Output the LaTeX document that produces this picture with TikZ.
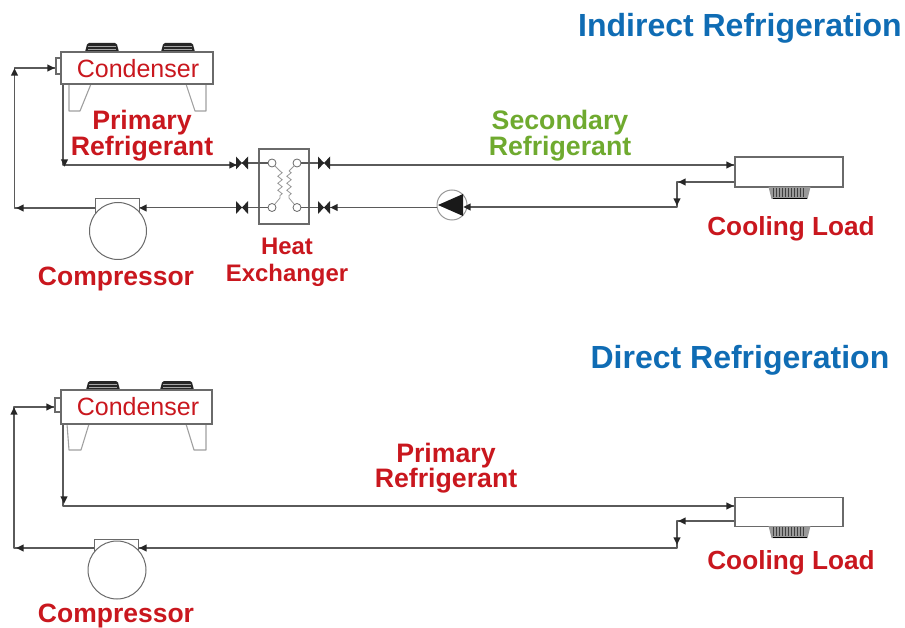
\documentclass[tikz,border=0pt]{standalone}
\usepackage{fontspec}
\setmainfont{Liberation Sans}
\usetikzlibrary{decorations.pathmorphing}
\definecolor{lblred}{HTML}{C9171E}
\definecolor{lblblue}{HTML}{0F6CB4}
\definecolor{lblgreen}{HTML}{6FAA2F}
\definecolor{pipe}{HTML}{5A5A5A}
\definecolor{unit}{HTML}{6A6A6A}
\newcommand{\lbl}[1]{\fontsize{#1}{#1}\selectfont}
\tikzset{
  x=1pt,y=-1pt,
  pipeline/.style={draw=pipe,line width=1.1pt,line join=round},
  unitbox/.style={draw=unit,line width=1.2pt,fill=white},
  unitline/.style={draw=gray!75,line width=1.1pt,line join=round},
  redlabel/.style={text=lblred,font=\bfseries\lbl{26.7},inner sep=0pt,anchor=base},
  smallred/.style={text=lblred,font=\bfseries\lbl{23.9},inner sep=0pt,anchor=base},
  loadlabel/.style={text=lblred,font=\bfseries\lbl{26.2},inner sep=0pt,anchor=base},
  condlabel/.style={text=lblred,font=\lbl{25},inner sep=0pt,anchor=base},
  title/.style={text=lblblue,font=\bfseries\lbl{32},inner sep=0pt,anchor=base},
  port/.style={circle,draw=gray!80!black,line width=0.8pt,fill=white,minimum size=8pt,inner sep=0pt},
  coilpath/.style={draw=gray!80,line width=0.8pt,decorate,decoration={zigzag,amplitude=2.2pt,segment length=7pt}},
  pics/flowtip/.style={code={\fill[black!85] (3.6,0)--(-3.6,3.6)--(-3.6,-3.6)--cycle;}},
  pics/valve/.style={code={\fill[black!85] (-6,-6.5)--(6,6.5)--(6,-6.5)--(-6,6.5)--cycle;}},
  pics/fanblock/.style={code={
    \fill[black!85] (-17,0)--(-15,-7.5)--(-13,-9)--(13,-9)--(15,-7.5)--(17,0)--cycle;
    \foreach \yy in {-3,-6}{\draw[gray!70,line width=0.4pt] (-14,\yy)--(14,\yy);}
  }},
  pics/coolfan/.style={code={
    \fill[gray!80] (-21,0)--(21,0)--(18,12)--(-18,12)--cycle;
    \foreach \xx in {-16,-13,...,16}{\draw[black!75,line width=1.2pt] (\xx,1)--(\xx,10);}
    \draw[black,line width=1.2pt] (-17,11.5)--(17,11.5);
  }},
}
\begin{document}
\begin{tikzpicture}
\useasboundingbox (0,0) rectangle (905,628);

% ---------- Indirect ----------
\node[title,anchor=base east] (t1) at (902,37) {Indirect Refrigeration};

% condenser
\pic at (102,52) {fanblock};
\pic at (178,52) {fanblock};
\draw[unitline] (69,84)--(69,111)--(80,111)--(91,84);
\draw[unitline] (186,84)--(195,111)--(206,111)--(206,84);
\node[unitbox,minimum width=152pt,minimum height=32pt,inner sep=0pt] (cond1) at (137,68) {};
\node[unitbox,minimum width=5pt,minimum height=16pt,inner sep=0pt] (cport1) at (58.5,66) {};
\node[condlabel] (cond1t) at (138,78) {Condenser};

% compressor
\node[draw=unit,line width=1pt,minimum width=44pt,minimum height=18pt,inner sep=0pt] (cbox1) at (117,208) {};
\node[circle,draw=unit,line width=1pt,fill=white,minimum size=57pt,inner sep=0pt] (comp1) at (118,231) {};

% heat exchanger
\node[draw=unit,line width=1.2pt,minimum width=50pt,minimum height=75pt,inner sep=0pt] (hx) at (284,186.5) {};
\node[port] (p1) at (272,163) {};
\node[port] (p2) at (297,163) {};
\node[port] (p3) at (272,207.5) {};
\node[port] (p4) at (297,207.5) {};
\coordinate (k1) at (280,171); \coordinate (k2) at (280,198);
\coordinate (k3) at (289,171); \coordinate (k4) at (289,198);
\draw[gray!80,line width=0.8pt] (p1)--(k1) (p3)--(k2) (p2)--(k3) (p4)--(k4);
\path[coilpath] (k1)--(k2);
\path[coilpath] (k3)--(k4);

% cooler
\node[unitbox,minimum width=108pt,minimum height=30pt,inner sep=0pt] (load1) at (789,172) {};
\pic at (789.5,187) {coolfan};

% pump
\node[circle,draw=gray!80,line width=1pt,fill=white,minimum size=30pt,inner sep=0pt] (pump) at (452,205) {};
\fill[black!90] (438,205)--(463,194)--(463,216)--cycle;

% valves
\coordinate (v1) at (242,163);
\coordinate (v2) at (242,207.5);
\coordinate (v3) at (324,163);
\coordinate (v4) at (324,207.5);

% pipes
\coordinate (a1) at (63,165);
\coordinate (a2) at (14.5,208);
\coordinate (a3) at (14.5,68);
\coordinate (a4) at (238,165);
\coordinate (a5) at (328,165);
\coordinate (a6) at (677,207);
\coordinate (a7) at (677,182);
\draw[pipeline] (cond1.south west -| a1) -- (a1) -- (a4);
\draw[pipeline] (v1) -- (p1);
\draw[pipeline] (p2) -- (v3);
\draw[pipeline] (a5) -- (load1.west |- a5);
\draw[pipeline] (cbox1.west |- a2) -- (a2) -- (a3) -- (cport1.west |- a3);
\draw[pipeline] (p3) -- (v2) -- (cbox1.east |- v2);
\draw[pipeline] (p4) -- (v4) -- (pump.west |- v4);
\draw[pipeline] (pump.east |- a6) -- (a6) -- (a7) -- (load1.west |- a7);

\pic at (v1) {valve};
\pic at (v2) {valve};
\pic at (v3) {valve};
\pic at (v4) {valve};
\pic at (233,165) {flowtip};
\pic[rotate=180] at (334,207.5) {flowtip};
\pic[rotate=180] at (467,207) {flowtip};
\pic[rotate=-90] at (64.5,163) {flowtip};
\pic[rotate=90] at (14.5,72) {flowtip};
\pic at (51,68) {flowtip};
\pic[rotate=180] at (20,208) {flowtip};
\pic[rotate=180] at (143,208) {flowtip};
\pic at (730,165) {flowtip};
\pic[rotate=180] at (682,182) {flowtip};
\pic[rotate=-90] at (677,202) {flowtip};

% labels
\node[redlabel] (l1) at (142,129.5) {Primary};
\node[redlabel] (l2) at (142,156) {Refrigerant};
\node[redlabel,text=lblgreen] (l3) at (560,129.5) {Secondary};
\node[redlabel,text=lblgreen] (l4) at (560,156) {Refrigerant};
\node[smallred] (l5) at (287,254.5) {Heat};
\node[smallred] (l6) at (287,282) {Exchanger};
\node[redlabel,font=\bfseries\lbl{26.5}] (l7) at (116,286) {Compressor};
\node[loadlabel] (l8) at (791,235.5) {Cooling Load};

% ---------- Direct ----------
\node[title] (t2) at (740,368) {Direct Refrigeration};

\pic at (103,390) {fanblock};
\pic at (177,390) {fanblock};
\draw[unitline] (67,424)--(69,450)--(81,450)--(89,424);
\draw[unitline] (186,424)--(194,450)--(206,450)--(206,424);
\node[unitbox,minimum width=151pt,minimum height=34pt,inner sep=0pt] (cond2) at (136.5,407) {};
\node[unitbox,minimum width=6pt,minimum height=14pt,inner sep=0pt] (cport2) at (58,405) {};
\node[condlabel] (cond2t) at (138,415.5) {Condenser};

\node[draw=unit,line width=1pt,minimum width=44pt,minimum height=18pt,inner sep=0pt] (cbox2) at (116,548) {};
\node[circle,draw=unit,line width=1pt,fill=white,minimum size=58pt,inner sep=0pt] (comp2) at (117,570) {};

\node[unitbox,minimum width=108pt,minimum height=28.5pt,inner sep=0pt] (load2) at (789,512) {};
\pic at (789.5,526) {coolfan};

\coordinate (b1) at (63,506);
\coordinate (b2) at (14,548);
\coordinate (b3) at (14,407);
\coordinate (b4) at (677,548);
\coordinate (b5) at (677,521);
\draw[pipeline] (cond2.south west -| b1) -- (b1) -- (load2.west |- b1);
\draw[pipeline] (cbox2.west |- b2) -- (b2) -- (b3) -- (cport2.west |- b3);
\draw[pipeline] (cbox2.east |- b4) -- (b4) -- (b5) -- (load2.west |- b5);

\pic[rotate=-90] at (64,500) {flowtip};
\pic[rotate=90] at (14,411) {flowtip};
\pic at (50,407) {flowtip};
\pic[rotate=180] at (20,548) {flowtip};
\pic[rotate=180] at (143,548) {flowtip};
\pic at (730,506) {flowtip};
\pic[rotate=180] at (682,521) {flowtip};
\pic[rotate=-90] at (677,541) {flowtip};

\node[redlabel] (l9) at (446,462) {Primary};
\node[redlabel] (l10) at (446,487) {Refrigerant};
\node[loadlabel] (l11) at (791,569) {Cooling Load};
\node[redlabel,font=\bfseries\lbl{26.5}] (l12) at (116,622) {Compressor};
\end{tikzpicture}
\end{document}
